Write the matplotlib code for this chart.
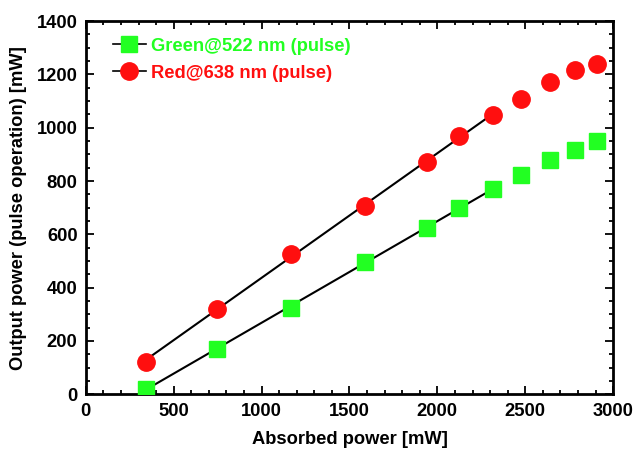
import numpy as np
import matplotlib
matplotlib.use("Agg")
from matplotlib import pyplot as plt
from matplotlib.ticker import MultipleLocator

plt.rcParams['font.family'] = ['Liberation Sans', 'DejaVu Sans']
plt.rcParams['font.weight'] = 'bold'

# absorbed pump power [mW]
absorbed = [340, 745, 1165, 1590, 1940, 2125, 2315, 2475, 2640, 2785, 2910]
# output power in pulse operation [mW]
green = [20, 170, 325, 495, 625, 700, 770, 822, 880, 915, 950]
red = [122, 320, 525, 707, 872, 970, 1047, 1107, 1172, 1215, 1240]
n_fit = 7  # linear region used for the fit lines

green_c = '#22ff22'
red_c = '#ff0f0f'

fig = plt.figure(figsize=(6.36, 4.5), dpi=100)
ax = fig.add_axes([0.135, 0.124, 0.829, 0.829])

x = np.array(absorbed, dtype=float)
for ys in (red, green):
    k, b = np.polyfit(x[:n_fit], np.array(ys[:n_fit], dtype=float), 1)
    xs = np.array([x[0], x[n_fit - 1]])
    ax.plot(xs, k * xs + b, color='black', lw=1.5, zorder=2)

ax.plot(absorbed, green, 's', color=green_c, ms=11, mec=green_c, zorder=3)
ax.plot(absorbed, red, 'o', color=red_c, ms=12.5, mec=red_c, zorder=3)

# legend entries with a short line through the marker
h1, = ax.plot([], [], '-s', color='black', mfc=green_c, mec=green_c, ms=11, lw=1.2)
h2, = ax.plot([], [], '-o', color='black', mfc=red_c, mec=red_c, ms=12.5, lw=1.2)
leg = ax.legend([h1, h2], ['Green@522 nm (pulse)', 'Red@638 nm (pulse)'],
                loc='upper left', frameon=False, fontsize=13.2,
                handlelength=1.8, handletextpad=0.3, borderaxespad=0.5,
                labelspacing=0.55, bbox_to_anchor=(0.02, 1.0))
for t, c in zip(leg.get_texts(), [green_c, red_c]):
    t.set_color(c)
    t.set_fontweight('bold')

ax.set_xlim(0, 3000)
ax.set_ylim(0, 1400)
ax.xaxis.set_major_locator(MultipleLocator(500))
ax.xaxis.set_minor_locator(MultipleLocator(100))
ax.yaxis.set_major_locator(MultipleLocator(200))
ax.yaxis.set_minor_locator(MultipleLocator(50))
ax.tick_params(which='both', direction='in', top=True, right=True, width=1.3)
ax.tick_params(which='major', length=6, labelsize=13.2, pad=6)
ax.tick_params(which='minor', length=3)
for s in ax.spines.values():
    s.set_linewidth(2)

ax.set_xlabel('Absorbed power [mW]', fontsize=13.2, fontweight='bold', labelpad=8)
ax.set_ylabel('Output power (pulse operation) [mW]', fontsize=13.2, fontweight='bold', labelpad=7)

fig.savefig('out.png', dpi=100)
